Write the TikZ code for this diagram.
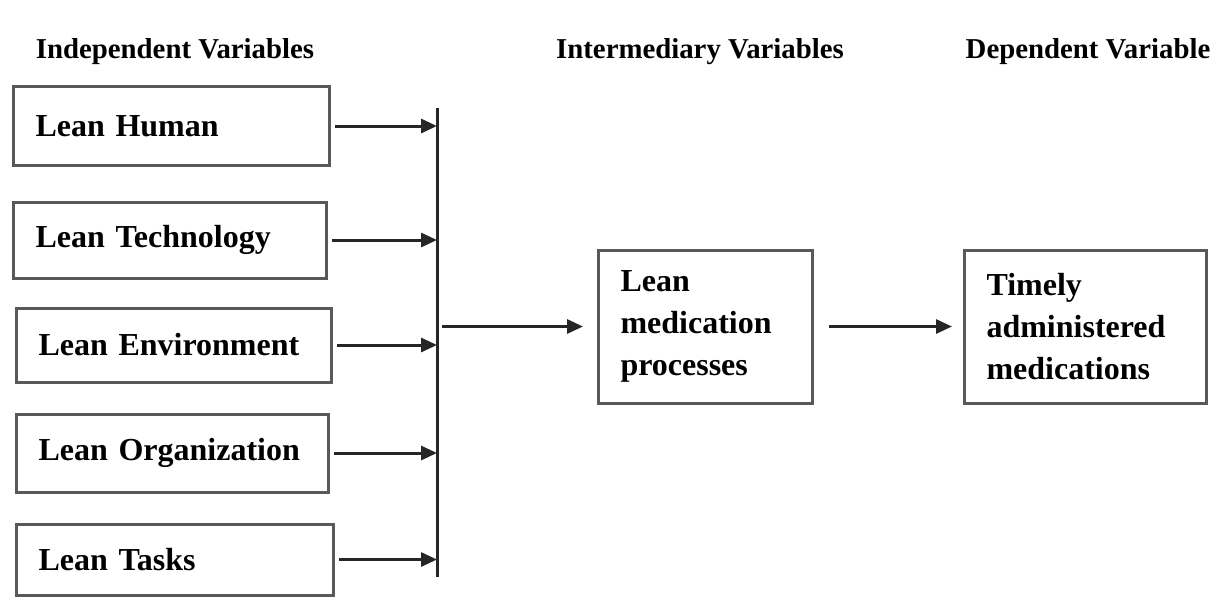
\documentclass[tikz,border=0pt]{standalone}
\usepackage{fontspec}
\setmainfont{Liberation Serif}
\usetikzlibrary{arrows.meta}

\newlength{\du}
\setlength{\du}{0.5pt}

\definecolor{boxgray}{rgb}{0.350000, 0.350000, 0.350000}
\definecolor{arrowgray}{rgb}{0.150000, 0.150000, 0.150000}

\tikzset{
  heading/.style={font=\bfseries\fontsize{14.4}{17}\selectfont, inner sep=0pt},
  varbox/.style={draw=boxgray, line width=1.5pt, fill=white, anchor=west, align=left,
    inner xsep=22\du, inner ysep=0pt, font=\bfseries\fontsize{16}{21}\selectfont},
  flow/.style={draw=arrowgray, line width=1.5pt, -{Triangle[length=8pt,width=7pt]}}
}

\begin{document}
\begin{tikzpicture}
\pgftransformyscale{-1.000000}
\useasboundingbox (0\du,0\du) rectangle (1229\du,596\du);
% headings
\node[heading] (hindep) at (175\du,52\du) {Independent Variables};
\node[heading] (hinter) at (700\du,52\du) {Intermediary Variables};
\node[heading] (hdep) at (1088\du,52\du) {Dependent Variable};
% independent variables
\node[varbox, text width=272\du, minimum height=79\du] (hum) at (12\du,126\du) {Lean Human};
\node[varbox, text width=269\du, minimum height=76\du] (tech) at (12\du,240\du) {Lean Technology};
\node[varbox, text width=271\du, minimum height=74\du] (env) at (15\du,345\du) {Lean Environment};
\node[varbox, text width=268\du, minimum height=78\du] (org) at (15\du,453\du) {Lean Organization};
\node[varbox, text width=273\du, minimum height=71\du] (task) at (15\du,559.5\du) {Lean Tasks};
% intermediary and dependent variables
\node[varbox, text width=170\du, minimum height=153\du] (proc) at (597\du,326.5\du) {Lean\\medication\\processes};
\node[varbox, text width=198\du, minimum height=153\du] (meds) at (963\du,326.5\du) {Timely\\administered\\medications};
% collecting bar
\coordinate (bartop) at (437\du,108\du);
\coordinate (barbot) at (437\du,577\du);
\draw[arrowgray, line width=1.5pt] (bartop) -- (barbot);
\foreach \b in {hum,tech,env,org,task}{
  \draw[flow] ([xshift=4\du]\b.east) -- (\b.east -| bartop);
}
\draw[flow] ([xshift=5\du]proc.west -| bartop) -- ([xshift=-14\du]proc.west);
\draw[flow] ([xshift=15\du]proc.east) -- ([xshift=-11\du]meds.west);
\end{tikzpicture}
\end{document}
